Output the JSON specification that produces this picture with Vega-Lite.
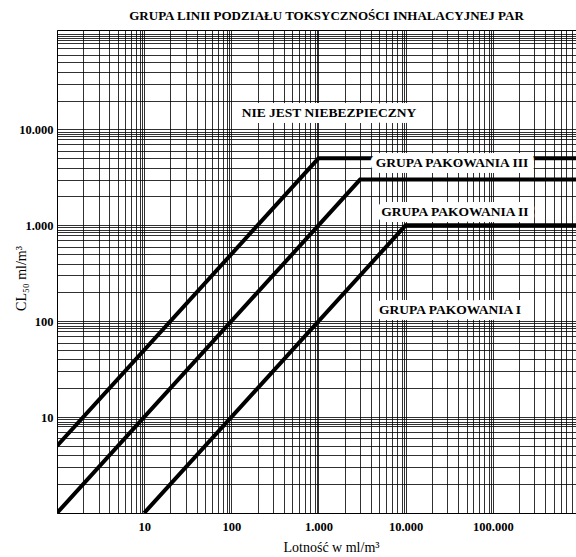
{
  "$schema": "https://vega.github.io/schema/vega-lite/v6.json",
  "width": 519,
  "height": 483,
  "autosize": {"type": "none"},
  "padding": {"left": 57, "top": 30, "right": 0, "bottom": 44},
  "background": "white",
  "title": {
    "text": "GRUPA LINII PODZIAŁU TOKSYCZNOŚCI INHALACYJNEJ PAR",
    "font": "Liberation Serif",
    "fontSize": 13,
    "fontWeight": "bold",
    "color": "black",
    "anchor": "middle",
    "dx": 10,
    "offset": 7
  },
  "config": {
    "view": {"stroke": "black", "strokeWidth": 1},
    "axis": {
      "grid": true,
      "gridColor": "#000000",
      "gridWidth": 0.9,
      "gridOpacity": 0.9,
      "ticks": false,
      "domain": false,
      "labelFont": "Liberation Serif",
      "labelFontWeight": "bold",
      "labelFontSize": 12.5,
      "labelColor": "black",
      "titleFont": "Liberation Serif",
      "titleFontWeight": "normal",
      "titleFontSize": 14,
      "titleColor": "black"
    }
  },
  "datasets": {
    "lines": [
      {"group": "III", "v": 1, "cl": 5},
      {"group": "III", "v": 1000, "cl": 5000},
      {"group": "III", "v": 900000, "cl": 5000},
      {"group": "II", "v": 1, "cl": 1},
      {"group": "II", "v": 3000, "cl": 3000},
      {"group": "II", "v": 900000, "cl": 3000},
      {"group": "I", "v": 10, "cl": 1},
      {"group": "I", "v": 10000, "cl": 1000},
      {"group": "I", "v": 900000, "cl": 1000}
    ],
    "labels": [
      {"v": 1320, "cl": 14800, "text": "NIE JEST NIEBEZPIECZNY"},
      {"v": 34000, "cl": 4460, "text": "GRUPA PAKOWANIA III"},
      {"v": 36800, "cl": 1377, "text": "GRUPA PAKOWANIA II"},
      {"v": 32300, "cl": 131, "text": "GRUPA PAKOWANIA I"}
    ]
  },
  "layer": [
    {
      "data": {"name": "lines"},
      "mark": {"type": "line", "color": "black", "strokeWidth": 4, "strokeCap": "butt", "clip": true},
      "encoding": {
        "x": {
          "field": "v",
          "type": "quantitative",
          "scale": {"type": "log", "domain": [1, 900000], "nice": false},
          "axis": {
            "title": "Lotność w ml/m³",
            "values": [1,2,3,4,5,6,7,8,9,9.5,10,20,30,40,50,60,70,80,90,95,100,200,300,400,500,600,700,800,900,950,1000,2000,3000,4000,5000,6000,7000,8000,9000,9500,10000,20000,30000,40000,50000,60000,70000,80000,90000,95000,100000,200000,300000,400000,500000,600000,700000,800000,900000],
            "labelExpr": "indexof([10,100,1000,10000,100000], datum.value) >= 0 ? replace(format(datum.value, ','), ',', '.') : ''",
            "labelPadding": 7,
            "labelFlush": false,
            "titleX": 274,
            "titleY": 34,
            "titleBaseline": "middle"
          }
        },
        "y": {
          "field": "cl",
          "type": "quantitative",
          "scale": {"type": "log", "domain": [1, 109000], "nice": false},
          "axis": {
            "title": "CL₅₀ ml/m³",
            "values": [1,2,3,4,5,6,7,8,8.5,9,9.5,10,20,30,40,50,60,70,80,85,90,95,100,200,300,400,500,600,700,800,850,900,950,1000,2000,3000,4000,5000,6000,7000,8000,8500,9000,9500,10000,20000,30000,40000,50000,60000,70000,80000,85000,90000,95000,100000],
            "labelExpr": "indexof([10,100,1000,10000], datum.value) >= 0 ? replace(format(datum.value, ','), ',', '.') : ''",
            "labelPadding": 4,
            "labelFlush": false,
            "titleX": -36,
            "titleY": 248,
            "titleAlign": "center",
            "titleBaseline": "middle"
          }
        },
        "detail": {"field": "group"}
      }
    },
    {
      "data": {"name": "labels"},
      "mark": {"type": "text", "font": "Liberation Serif", "fontWeight": "bold", "fontSize": 13.5, "fill": "white", "stroke": "white", "strokeWidth": 12, "strokeJoin": "round"},
      "encoding": {
        "x": {"field": "v", "type": "quantitative"},
        "y": {"field": "cl", "type": "quantitative"},
        "text": {"field": "text"}
      }
    },
    {
      "data": {"name": "labels"},
      "mark": {"type": "text", "font": "Liberation Serif", "fontWeight": "bold", "fontSize": 13.5, "color": "black"},
      "encoding": {
        "x": {"field": "v", "type": "quantitative"},
        "y": {"field": "cl", "type": "quantitative"},
        "text": {"field": "text"}
      }
    }
  ]
}
